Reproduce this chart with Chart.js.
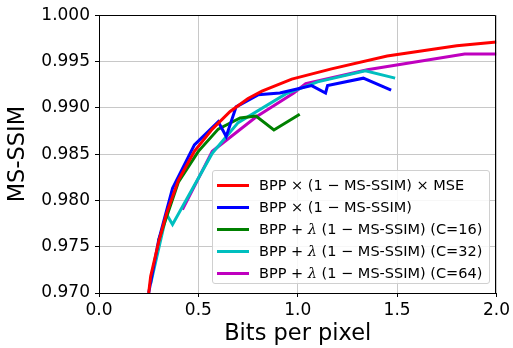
<!DOCTYPE html>
<html>
<head>
<meta charset="utf-8">
<script src="https://cdn.jsdelivr.net/npm/chart.js@4.4.1/dist/chart.umd.min.js"></script>
<style>
  html, body { margin: 0; padding: 0; background: #fff; }
  #wrap { position: relative; width: 513px; height: 348px; }
  #legend {
    position: absolute; left: 212px; top: 170px; width: 278px; height: 114px;
    border: 1px solid #d0d0d0; border-radius: 3px; background: rgba(255,255,255,0.85);
    font-family: "DejaVu Sans", sans-serif; font-size: 14.5px; color: #000;
    box-sizing: border-box; padding-top: 3px;
  }
  .row { height: 22px; line-height: 22px; white-space: nowrap; position: relative; }
  .swatch { position: absolute; left: 4px; top: 10px; width: 32px; height: 3px; }
  .lbl { position: absolute; left: 46px; top: 0; }
  .lbl i { font-family: "DejaVu Serif", serif; }
</style>
</head>
<body>
<div id="wrap">
  <canvas id="chart" width="513" height="348"></canvas>
  <div id="legend"></div>
</div>
<script>
// series labels and colours
const seriesLabels = [
  'BPP × (1 − MS-SSIM) × MSE',
  'BPP × (1 − MS-SSIM)',
  'BPP + <i>λ</i> (1 − MS-SSIM) (C=16)',
  'BPP + <i>λ</i> (1 − MS-SSIM) (C=32)',
  'BPP + <i>λ</i> (1 − MS-SSIM) (C=64)'
];
const seriesColors = ['#ff0000', '#0000ff', '#008000', '#00bfbf', '#bf00bf'];

// bits per pixel / MS-SSIM
const redBpp  = [0.25, 0.26, 0.30, 0.34, 0.40, 0.48, 0.57, 0.66, 0.75, 0.82, 0.97, 1.17, 1.45, 1.80, 2.00];
const redSsim = [0.970, 0.9718, 0.9755, 0.9786, 0.9822, 0.9853, 0.9877, 0.9896, 0.9910, 0.9918, 0.9931, 0.9942, 0.9956, 0.9967, 0.9971];

const blueBpp  = [0.25, 0.30, 0.37, 0.48, 0.60, 0.64, 0.69, 0.80, 0.91, 1.07, 1.14, 1.15, 1.33, 1.47];
const blueSsim = [0.970, 0.9757, 0.9813, 0.9860, 0.9885, 0.9869, 0.9901, 0.9914, 0.9916, 0.9924, 0.9916, 0.9924, 0.9932, 0.9919];

const greenBpp  = [0.30, 0.40, 0.50, 0.60, 0.71, 0.79, 0.88, 1.01];
const greenSsim = [0.9757, 0.9820, 0.9853, 0.9877, 0.9889, 0.9891, 0.9876, 0.9893];

const cyanBpp  = [0.26, 0.34, 0.37, 0.57, 0.70, 0.94, 1.10, 1.34, 1.49];
const cyanSsim = [0.971, 0.9785, 0.9774, 0.9851, 0.9884, 0.9915, 0.9928, 0.9940, 0.9932];

const magentaBpp  = [0.42, 0.57, 0.79, 0.98, 1.04, 1.35, 1.84, 2.00];
const magentaSsim = [0.9790, 0.9853, 0.9890, 0.9916, 0.9926, 0.9941, 0.9958, 0.9958];

const xTicks = [0.0, 0.5, 1.0, 1.5, 2.0];
const yTicks = [0.970, 0.975, 0.980, 0.985, 0.990, 0.995, 1.000];

const seriesX = [redBpp, blueBpp, greenBpp, cyanBpp, magentaBpp];
const seriesY = [redSsim, blueSsim, greenSsim, cyanSsim, magentaSsim];

const datasets = seriesX.map((xs, i) => ({
  label: seriesLabels[i],
  data: xs.map((x, j) => ({ x: x, y: seriesY[i][j] })),
  borderColor: seriesColors[i],
  backgroundColor: seriesColors[i],
  borderWidth: 3,
  pointRadius: 0,
  tension: 0,
  fill: false
}));

// legend drawn as html inside the plot
const legendEl = document.getElementById('legend');
seriesLabels.forEach((lbl, i) => {
  const row = document.createElement('div');
  row.className = 'row';
  row.innerHTML = `<span class="swatch" style="background:${seriesColors[i]}"></span><span class="lbl">${lbl}</span>`;
  legendEl.appendChild(row);
});

// top and right spines
const frame = {
  id: 'frame',
  afterDraw(chart) {
    const a = chart.chartArea, ctx = chart.ctx;
    ctx.save();
    ctx.strokeStyle = '#000';
    ctx.lineWidth = 1;
    ctx.beginPath();
    ctx.moveTo(Math.round(a.left), Math.round(a.top) + 0.5);
    ctx.lineTo(Math.round(a.right) - 0.5, Math.round(a.top) + 0.5);
    ctx.lineTo(Math.round(a.right) - 0.5, Math.round(a.bottom));
    ctx.stroke();
    ctx.restore();
  }
};

const tickFont = { family: 'DejaVu Sans', size: 17 };
const titleFont = { family: 'DejaVu Sans', size: 22.5 };

new Chart(document.getElementById('chart').getContext('2d'), {
  type: 'line',
  data: { datasets: datasets },
  options: {
    responsive: false,
    animation: false,
    layout: { padding: { top: 15, right: 16, left: 0, bottom: 0 } },
    plugins: { legend: { display: false }, tooltip: { enabled: false } },
    scales: {
      x: {
        type: 'linear',
        min: xTicks[0],
        max: xTicks[xTicks.length - 1],
        afterBuildTicks: s => { s.ticks = xTicks.map(v => ({ value: v })); },
        afterFit: s => { s.height = 55; },
        ticks: { font: tickFont, color: '#000', padding: 3, callback: v => v.toFixed(1) },
        grid: { color: '#c8c8c8', lineWidth: 1, tickLength: 4, tickColor: '#000' },
        border: { color: '#000' },
        title: { display: true, text: 'Bits per pixel', font: titleFont, color: '#000', padding: { top: 0, bottom: 0 } }
      },
      y: {
        type: 'linear',
        min: yTicks[0],
        max: yTicks[yTicks.length - 1],
        afterBuildTicks: s => { s.ticks = yTicks.map(v => ({ value: v })); },
        afterFit: s => { s.width = 99; },
        ticks: { font: tickFont, color: '#000', padding: 5, callback: v => v.toFixed(3) },
        grid: { color: '#c8c8c8', lineWidth: 1, tickLength: 4, tickColor: '#000' },
        border: { color: '#000' },
        title: { display: true, text: 'MS-SSIM', font: titleFont, color: '#000', padding: { top: 5, bottom: 0 } }
      }
    }
  },
  plugins: [frame]
});
</script>
</body>
</html>
